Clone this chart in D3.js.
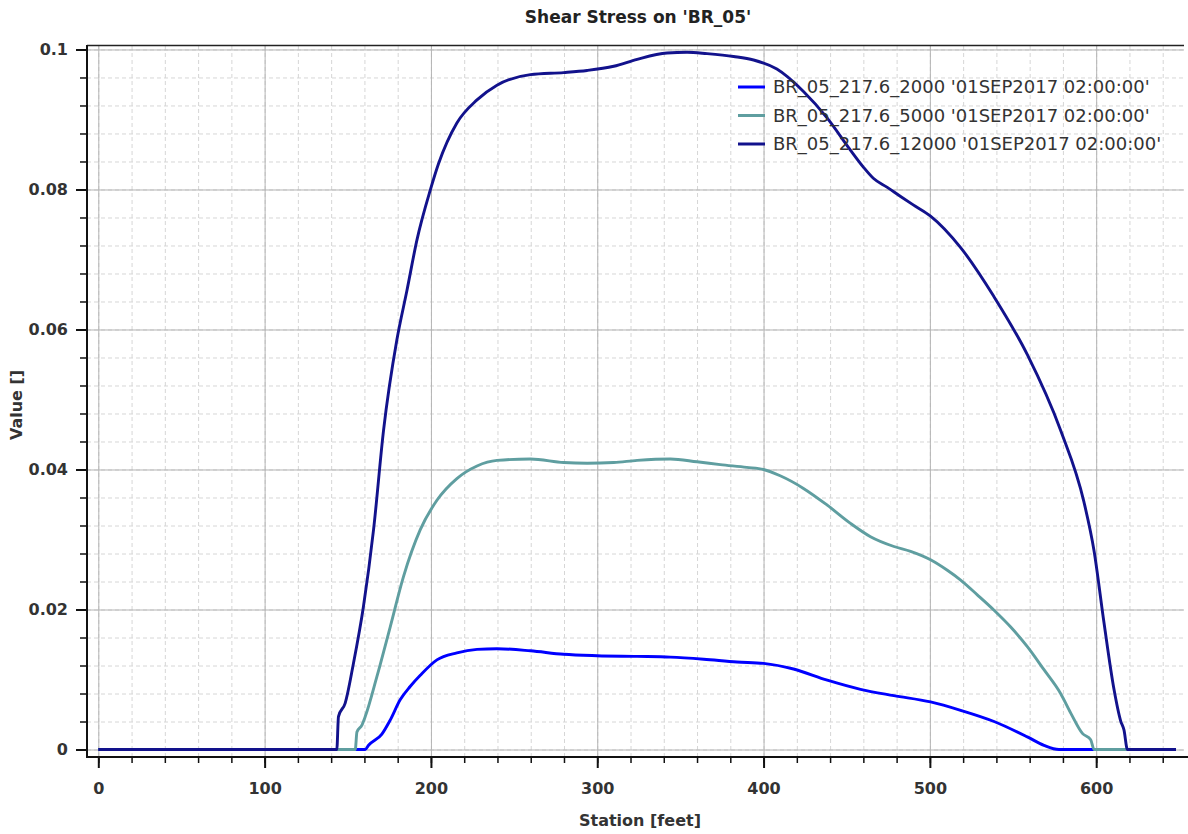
<!DOCTYPE html>
<html>
<head>
<meta charset="utf-8">
<script src="https://cdn.jsdelivr.net/npm/d3@7"></script>
<style>
  body { margin: 0; background: #fff; }
  svg { display: block; }
  .tick text { font-family: "DejaVu Sans", sans-serif; font-weight: bold; font-size: 16px; fill: #333; }
</style>
</head>
<body>
<div class="chart"></div>
<script>
// station (feet) and shear stress values
var stn2000 = [0, 160.5, 162.5, 170.5, 175.5, 181.5, 187.5, 193.6, 203.6, 215.6, 227.7, 239.7, 259.8, 279.8, 299.9, 324, 344, 364, 384, 400, 418, 438.3, 458.3, 478.4, 500.4, 518.5, 538.6, 558.6, 568.6, 577.6, 648];
var val2000 = [0, 0, 0.0006, 0.0022, 0.0042, 0.0071, 0.0090, 0.0106, 0.0128, 0.0138, 0.0143, 0.0144, 0.0141, 0.0136, 0.0134, 0.0133, 0.0132, 0.0129, 0.0125, 0.0123, 0.0115, 0.0099, 0.0086, 0.0077, 0.0068, 0.0056, 0.0040, 0.0018, 0.0006, 0, 0];

var stn5000 = [0, 154.5, 155.5, 158.5, 160.5, 167.5, 175.5, 183.5, 193.6, 203.6, 215.6, 227.7, 239.7, 259.8, 279.8, 293.9, 309.9, 324, 344, 360, 374, 389.9, 400, 410, 424, 438.3, 452.3, 464.3, 478.4, 488.4, 500.4, 510.5, 518.5, 528.5, 538.6, 548.6, 558.6, 568.6, 578.6, 584.7, 591.7, 596.7, 598.7, 648];
var val5000 = [0, 0, 0.0025, 0.0035, 0.0047, 0.0104, 0.0175, 0.0247, 0.0314, 0.0356, 0.0387, 0.0405, 0.0413, 0.0415, 0.0410, 0.0409, 0.0410, 0.0413, 0.0415, 0.0411, 0.0407, 0.0403, 0.0400, 0.0391, 0.0373, 0.0349, 0.0323, 0.0304, 0.0290, 0.0283, 0.0271, 0.0256, 0.0242, 0.0221, 0.0199, 0.0175, 0.0147, 0.0114, 0.0080, 0.0052, 0.0023, 0.0014, 0, 0];

var stn12000 = [0, 143.4, 144.4, 148.4, 153.4, 159.4, 165.5, 171.5, 179.5, 185.6, 191.6, 199.6, 204.6, 215.6, 227.7, 239.7, 259.8, 279.8, 293.9, 309.9, 324, 342, 354, 366, 382, 394, 408, 424, 438.3, 452, 460, 466, 474.4, 482.4, 490, 500.4, 518.5, 538.5, 558.6, 578.6, 592.6, 598.7, 604.7, 610.7, 614.7, 616.7, 618.8, 648];
var val12000 = [0, 0, 0.0047, 0.0066, 0.0123, 0.0204, 0.0314, 0.0456, 0.0585, 0.0656, 0.0728, 0.0799, 0.0837, 0.0895, 0.0928, 0.0949, 0.0964, 0.0967, 0.0970, 0.0976, 0.0986, 0.0995, 0.0996, 0.0994, 0.0990, 0.0985, 0.0972, 0.0940, 0.0902, 0.0857, 0.0832, 0.0816, 0.0803, 0.0790, 0.0778, 0.0762, 0.0717, 0.0647, 0.0564, 0.0456, 0.0354, 0.0284, 0.0181, 0.0086, 0.0041, 0.0028, 0, 0];

var seriesNames = [
  "BR_05_217.6_2000 '01SEP2017 02:00:00'",
  "BR_05_217.6_5000 '01SEP2017 02:00:00'",
  "BR_05_217.6_12000 '01SEP2017 02:00:00'"
];
var seriesColors = ["#0000ff", "#5f9ea0", "#12128c"];

var xMajor = [0, 100, 200, 300, 400, 500, 600];
var xMinor = d3.range(0, 660, 20);
var yMajor = [0, 0.02, 0.04, 0.06, 0.08, 0.1];
var yMinor = d3.range(0, 101, 4).map(function (d) { return d / 1000; });

var W = 1188, H = 834;
var plot = {left: 87, right: 1184, top: 45, bottom: 757};

var svg = d3.select(".chart").append("svg")
  .attr("width", W)
  .attr("height", H);

var x = d3.scaleLinear().domain([-6.8, 652.8]).range([plot.left, plot.right]);
var y = d3.scaleLinear().domain([-0.00107, 0.10064]).range([plot.bottom, plot.top]);

var pw = plot.right - plot.left, ph = plot.bottom - plot.top;

// minor grid (dashed)
svg.append("g")
  .attr("transform", "translate(0," + plot.bottom + ")")
  .call(d3.axisBottom(x).tickValues(xMinor).tickSize(-ph).tickFormat(""))
  .call(function (g) {
    g.select(".domain").remove();
    g.selectAll("line").attr("stroke", "#d6d6d6").attr("stroke-dasharray", "4,3");
  });
svg.append("g")
  .attr("transform", "translate(" + plot.left + ",0)")
  .call(d3.axisLeft(y).tickValues(yMinor).tickSize(-pw).tickFormat(""))
  .call(function (g) {
    g.select(".domain").remove();
    g.selectAll("line").attr("stroke", "#d6d6d6").attr("stroke-dasharray", "4,3");
  });

// major grid (solid)
svg.append("g")
  .attr("transform", "translate(0," + plot.bottom + ")")
  .call(d3.axisBottom(x).tickValues(xMajor).tickSize(-ph).tickFormat(""))
  .call(function (g) {
    g.select(".domain").remove();
    g.selectAll("line").attr("stroke", "#b4b4b4");
  });
svg.append("g")
  .attr("transform", "translate(" + plot.left + ",0)")
  .call(d3.axisLeft(y).tickValues(yMajor).tickSize(-pw).tickFormat(""))
  .call(function (g) {
    g.select(".domain").remove();
    g.selectAll("line").attr("stroke", "#b4b4b4");
  });

// top border
svg.append("line")
  .attr("x1", plot.left).attr("x2", plot.right)
  .attr("y1", plot.top + 0.5).attr("y2", plot.top + 0.5)
  .attr("stroke", "#222").attr("stroke-width", 1.5);

// lines
svg.append("clipPath").attr("id", "clip")
  .append("rect")
  .attr("x", plot.left).attr("y", plot.top)
  .attr("width", pw).attr("height", ph);

var line = d3.line()
  .curve(d3.curveMonotoneX)
  .x(function (d) { return x(d[0]); })
  .y(function (d) { return y(d[1]); });

var series = [
  d3.zip(stn2000, val2000),
  d3.zip(stn5000, val5000),
  d3.zip(stn12000, val12000)
];

svg.append("g")
  .attr("clip-path", "url(#clip)")
  .selectAll("path")
  .data(series)
  .enter().append("path")
  .attr("d", line)
  .attr("fill", "none")
  .attr("stroke-width", 2.9)
  .attr("stroke-linejoin", "round")
  .attr("stroke", function (d, i) { return seriesColors[i]; });

// axes
svg.append("g")
  .attr("transform", "translate(0," + plot.bottom + ")")
  .call(d3.axisBottom(x).tickValues(xMinor).tickSize(6).tickSizeOuter(0).tickFormat(""))
  .call(function (g) {
    g.select(".domain").attr("stroke", "#111").attr("stroke-width", 2)
      .attr("d", "M" + (plot.left - 1) + ",0H" + W);
    g.selectAll("line").attr("stroke", "#111").attr("stroke-width", 1.5);
  });
svg.append("g")
  .attr("transform", "translate(0," + plot.bottom + ")")
  .call(d3.axisBottom(x).tickValues(xMajor).tickSize(11).tickPadding(15).tickFormat(d3.format("d")))
  .call(function (g) {
    g.select(".domain").remove();
    g.selectAll("line").attr("stroke", "#111").attr("stroke-width", 2);
  });

svg.append("g")
  .attr("transform", "translate(" + plot.left + ",0)")
  .call(d3.axisLeft(y).tickValues(yMinor).tickSize(7).tickSizeOuter(0).tickFormat(""))
  .call(function (g) {
    g.select(".domain").attr("stroke", "#111").attr("stroke-width", 2)
      .attr("d", "M0," + plot.top + "V" + (plot.bottom + 1));
    g.selectAll("line").attr("stroke", "#111").attr("stroke-width", 1.5);
  });
svg.append("g")
  .attr("transform", "translate(" + plot.left + ",0)")
  .call(d3.axisLeft(y).tickValues(yMajor).tickSize(11).tickPadding(8)
    .tickFormat(function (d) { return d === 0 ? "0" : d3.format("")(+d.toFixed(2)); }))
  .call(function (g) {
    g.select(".domain").remove();
    g.selectAll("line").attr("stroke", "#111").attr("stroke-width", 2);
  });

// titles
svg.append("text")
  .attr("x", 638).attr("y", 23)
  .attr("text-anchor", "middle")
  .style("font-family", "DejaVu Sans, sans-serif")
  .style("font-weight", "bold")
  .style("font-size", "17px")
  .style("fill", "#222")
  .text("Shear Stress on 'BR_05'");

svg.append("text")
  .attr("x", 640).attr("y", 826)
  .attr("text-anchor", "middle")
  .style("font-family", "DejaVu Sans, sans-serif")
  .style("font-weight", "bold")
  .style("font-size", "16px")
  .style("fill", "#333")
  .text("Station [feet]");

svg.append("text")
  .attr("transform", "translate(22," + ((plot.top + plot.bottom) / 2 + 4) + ") rotate(-90)")
  .attr("text-anchor", "middle")
  .style("font-family", "DejaVu Sans, sans-serif")
  .style("font-weight", "bold")
  .style("font-size", "16px")
  .style("fill", "#333")
  .text("Value []");

// legend
var legend = svg.append("g").attr("transform", "translate(738,87)");
var item = legend.selectAll("g")
  .data(seriesNames)
  .enter().append("g")
  .attr("transform", function (d, i) { return "translate(0," + (i * 28.5) + ")"; });
item.append("line")
  .attr("x1", 0).attr("x2", 27)
  .attr("stroke-width", 3)
  .attr("stroke", function (d, i) { return seriesColors[i]; });
item.append("text")
  .attr("x", 35).attr("dy", "0.35em")
  .style("font-family", "DejaVu Sans, sans-serif")
  .style("font-size", "18px")
  .style("fill", "#333")
  .text(function (d) { return d; });
</script>
</body>
</html>
